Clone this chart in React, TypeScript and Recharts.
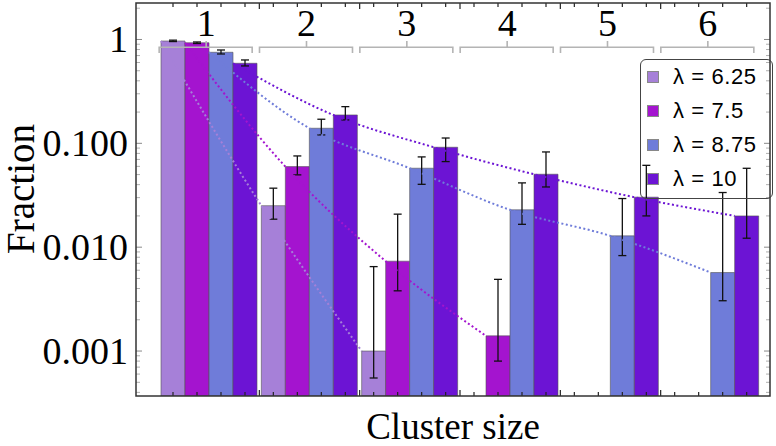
import React from 'react';
import { ComposedChart, Bar, Line, XAxis, YAxis, ErrorBar, Legend } from 'recharts';

// Cluster sizes (one group of bars each)
const sizes = [1, 2, 3, 4, 5, 6];
const groupLabels = ['1', '2', '3', '4', '5', '6'];

const seriesNames = ['λ = 6.25', 'λ = 7.5', 'λ = 8.75', 'λ = 10'];
const seriesColors = ['#a680d8', '#a414cf', '#6f7cd9', '#6c14d4'];

// fraction of clusters, with lower / upper error bounds
const frac625 = [0.967, 0.0251, 0.001, null, null, null];
const lo625 = [0.955, 0.0186, 0.00055, null, null, null];
const hi625 = [0.985, 0.037, 0.0065, null, null, null];

const frac750 = [0.93, 0.0597, 0.00733, 0.0014, null, null];
const lo750 = [0.915, 0.0497, 0.0038, 0.0008, null, null];
const hi750 = [0.946, 0.0756, 0.0208, 0.0049, null, null];

const frac875 = [0.753, 0.1397, 0.0576, 0.0229, 0.01285, 0.0057];
const lo875 = [0.725, 0.1205, 0.0403, 0.0166, 0.0083, 0.00305];
const hi875 = [0.792, 0.1706, 0.074, 0.0416, 0.0294, 0.0336];

const frac1000 = [0.59, 0.1876, 0.0917, 0.0504, 0.0303, 0.02];
const lo1000 = [0.556, 0.168, 0.0667, 0.038, 0.02, 0.0122];
const hi1000 = [0.635, 0.2256, 0.1125, 0.0826, 0.0614, 0.0575];

const yTickValues = [1, 0.1, 0.01, 0.001];
const yTickLabels = ['1', '0.100', '0.010', '0.001'];
const yDomain = [0.000369, 2.245];

// layout
const PLOT_LEFT = 136;
const PLOT_RIGHT = 770;
const PLOT_TOP = 3;
const PLOT_BOTTOM = 396;
const PAD_L = 23;
const PAD_R = 9;
const BAND = (PLOT_RIGHT - PLOT_LEFT - PAD_L - PAD_R) / sizes.length;
const BAR_W = 24;
const BAR_START = Math.floor((BAND - BAR_W * 4) / 2);
const centerOffset = (k: number) => (BAR_START + BAR_W * k + BAR_W / 2 - BAND / 2) / BAND;
const edgeOffset = (k: number) => (BAR_START + BAR_W * k - BAND / 2) / BAND;

const serif = '"Liberation Serif", "Times New Roman", serif';
const sans = '"Liberation Sans", Arial, sans-serif';

const series = [
  { name: seriesNames[0], color: seriesColors[0], frac: frac625, lo: lo625, hi: hi625 },
  { name: seriesNames[1], color: seriesColors[1], frac: frac750, lo: lo750, hi: hi750 },
  { name: seriesNames[2], color: seriesColors[2], frac: frac875, lo: lo875, hi: hi875 },
  { name: seriesNames[3], color: seriesColors[3], frac: frac1000, lo: lo1000, hi: hi1000 },
];

// x ticks: bar centres (short), group boundaries (long), group centres (labels + brackets)
const xMajorTicks = sizes.slice(1).map((s) => s - 0.5);
const xMinorTicks = sizes.flatMap((s) => [0, 1, 2, 3].map((k) => s + centerOffset(k)));
const xAllTicks = [...xMinorTicks, ...xMajorTicks, ...sizes].sort((a, b) => a - b);
const near = (list: number[], v: number) => list.some((m) => Math.abs(m - v) < 1e-6);

const yMinorTicks = [1e-4, 1e-3, 1e-2, 1e-1, 1]
  .flatMap((d) => [2, 3, 4, 5, 6, 7, 8, 9].map((m) => m * d))
  .filter((v) => v > yDomain[0] && v < yDomain[1]);
const yFrameTicks = [...yTickValues, ...yMinorTicks];

const FrameXTick = ({ x, payload }: any) => {
  const v = payload.value;
  const gi = sizes.findIndex((s) => Math.abs(s - v) < 1e-6);
  if (gi >= 0) {
    const y = PLOT_TOP;
    const cx = x - 3;
    return (
      <g>
        <path
          d={`M${x - 50},${y + 50} L${x - 50},${y + 44.3} L${x + 43},${y + 44.3} L${x + 43},${y + 50} M${cx},${y + 44.3} L${cx},${y + 38}`}
          fill="none"
          stroke="#b4b4b4"
          strokeWidth={1.6}
        />
        <text x={cx} y={y + 33} textAnchor="middle" fontFamily={serif} fontSize={38} fill="#000">
          {groupLabels[gi]}
        </text>
      </g>
    );
  }
  const len = near(xMajorTicks, v) ? 6 : 4;
  return (
    <g>
      <line x1={x} y1={PLOT_BOTTOM} x2={x} y2={PLOT_BOTTOM - len} stroke="#222" strokeWidth={1.2} />
      <line x1={x} y1={PLOT_TOP} x2={x} y2={PLOT_TOP + len} stroke="#222" strokeWidth={1.2} />
    </g>
  );
};

const FrameYTick = ({ y, payload }: any) => {
  const i = yTickValues.indexOf(payload.value);
  const major = i >= 0;
  const len = major ? 6 : 4;
  const color = major ? '#8a8a8a' : '#b0b0b0';
  return (
    <g>
      <line x1={PLOT_LEFT} y1={y} x2={PLOT_LEFT + len} y2={y} stroke={color} strokeWidth={1} />
      <line x1={PLOT_RIGHT} y1={y} x2={PLOT_RIGHT - len} y2={y} stroke={color} strokeWidth={1} />
      {major && (
        <text x={PLOT_LEFT - 8} y={y + 13} textAnchor="end" fontFamily={serif} fontSize={38} fill="#000">
          {yTickLabels[i]}
        </text>
      )}
    </g>
  );
};

const FractionTitle = () => (
  <text transform="translate(34,189) rotate(-90)" textAnchor="middle" fontFamily={serif} fontSize={39} fill="#000">
    Fraction
  </text>
);

const ClusterTitle = () => (
  <text x={453} y={439} textAnchor="middle" fontFamily={serif} fontSize={37} fill="#000">
    Cluster size
  </text>
);

const LegendBox = () => (
  <div
    style={{
      width: 133,
      height: 140,
      boxSizing: 'border-box',
      border: '1px solid #444',
      borderRadius: 6,
      fontFamily: sans,
      fontSize: 22,
      letterSpacing: 0.6,
      color: '#000',
    }}
  >
    {series.map((s) => (
      <div key={s.name} style={{ height: 34, display: 'flex', alignItems: 'center', paddingLeft: 6 }}>
        <span
          style={{
            width: 12,
            height: 12,
            flex: 'none',
            boxSizing: 'border-box',
            background: s.color,
            border: '1px solid #888',
            marginRight: 14,
          }}
        />
        <span style={{ whiteSpace: 'nowrap', lineHeight: '24px' }}>{s.name}</span>
      </div>
    ))}
  </div>
);

export default function App() {
  const rows = sizes.map((size, i) => {
    const row: Record<string, any> = { size };
    series.forEach((s, k) => {
      const v = s.frac[i];
      row[`v${k}`] = v;
      row[`e${k}`] = v == null ? undefined : [v - (s.lo[i] as number), (s.hi[i] as number) - v];
    });
    return row;
  });

  const fitData = series.map((s, k) =>
    sizes
      .map((size, i) => ({ x: size + edgeOffset(k), v: s.frac[i] }))
      .filter((p) => p.v != null)
  );

  // visible axes are 1px thick, so the margins leave room for them
  return (
    <div style={{ position: 'absolute', left: 0, top: 0, width: 776, height: 446, background: '#fff' }}>
      <ComposedChart
        width={776}
        height={446}
        data={rows}
        margin={{ top: PLOT_TOP, right: 776 - PLOT_RIGHT, bottom: 446 - PLOT_BOTTOM - 1, left: PLOT_LEFT - 1 }}
        barGap={0}
        barSize={BAR_W}
      >
        <XAxis xAxisId="cat" dataKey="size" type="category" hide padding={{ left: PAD_L, right: PAD_R }} />
        <XAxis
          xAxisId="fit"
          dataKey="x"
          type="number"
          domain={[0.5, 6.5]}
          allowDataOverflow
          padding={{ left: PAD_L, right: PAD_R }}
          height={1}
          ticks={xAllTicks}
          interval={0}
          tickSize={0}
          tickMargin={0}
          tickLine={false}
          tick={<FrameXTick />}
          axisLine={false}
          label={<ClusterTitle />}
        />
        <YAxis
          yAxisId="frac"
          type="number"
          scale="log"
          domain={yDomain}
          allowDataOverflow
          width={1}
          ticks={yFrameTicks}
          interval={0}
          tickSize={0}
          tickMargin={0}
          tickLine={false}
          tick={<FrameYTick />}
          axisLine={false}
          label={<FractionTitle />}
        />
        <Legend
          layout="vertical"
          align="center"
          verticalAlign="middle"
          wrapperStyle={{ left: 640, top: 59, width: 133, height: 140 }}
          content={<LegendBox />}
        />
        {series.map((s, k) => (
          <Bar
            key={s.name}
            xAxisId="cat"
            yAxisId="frac"
            dataKey={`v${k}`}
            name={s.name}
            fill={s.color}
            stroke="#555"
            strokeOpacity={0.6}
            strokeWidth={1}
            isAnimationActive={false}
          >
            <ErrorBar dataKey={`e${k}`} width={4} stroke="#111" strokeWidth={1.3} direction="y" />
          </Bar>
        ))}
        {series.map((s, k) => (
          <Line
            key={`fit-${s.name}`}
            xAxisId="fit"
            yAxisId="frac"
            data={fitData[k]}
            dataKey="v"
            type="monotone"
            stroke={s.color}
            strokeWidth={2}
            strokeDasharray="2 2.5"
            dot={false}
            activeDot={false}
            legendType="none"
            isAnimationActive={false}
          />
        ))}
      </ComposedChart>
      <svg
        width={776}
        height={446}
        style={{ position: 'absolute', left: 0, top: 0, pointerEvents: 'none' }}
      >
        <rect
          x={PLOT_LEFT}
          y={PLOT_TOP}
          width={PLOT_RIGHT - PLOT_LEFT}
          height={PLOT_BOTTOM - PLOT_TOP}
          fill="none"
          stroke="#333"
          strokeWidth={1.5}
        />
      </svg>
    </div>
  );
}
